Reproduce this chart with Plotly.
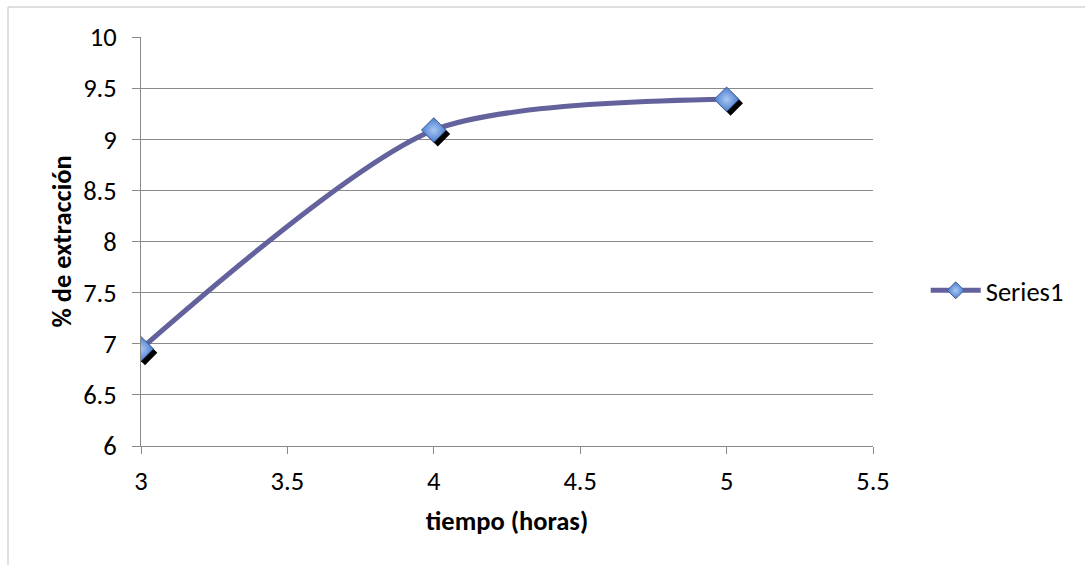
import plotly.graph_objects as go

# Data
tiempo = [3, 4, 5]
extraccion = [6.95, 9.09, 9.39]
series_name = "Series1"
x_ticks = [3, 3.5, 4, 4.5, 5, 5.5]
y_ticks = [6, 6.5, 7, 7.5, 8, 8.5, 9, 9.5, 10]

FONT = "Carlito, Calibri, Lato, sans-serif"
FS = 26.5
W, H = 1085, 565
ML, MR, MT, MB = 141, 212, 37, 119
pw = W - ML - MR
ph = H - MT - MB
x_range = [3, 5.5]
y_range = [6, 10]

# shadow offset in data units (4px right, 4px down)
dx = 4 * (x_range[1] - x_range[0]) / pw
dy = 4 * (y_range[1] - y_range[0]) / ph

fig = go.Figure()
fig.add_trace(go.Scatter(
    x=tiempo, y=extraccion, mode="lines", name=series_name,
    line=dict(color="#63629C", width=5, shape="spline", smoothing=0.75),
    showlegend=False, hoverinfo="skip"))
fig.add_trace(go.Scatter(
    x=[v + dx for v in tiempo], y=[v - dy for v in extraccion], mode="markers",
    marker=dict(symbol="diamond", size=19, color="#000000"),
    showlegend=False, hoverinfo="skip"))
fig.add_trace(go.Scatter(
    x=tiempo, y=extraccion, mode="markers", showlegend=False,
    marker=dict(symbol="diamond", size=19, color="#4A7CD0",
                gradient=dict(type="radial", color="#A9C8F2"),
                line=dict(color="#3E5C93", width=1))))
# legend entry
fig.add_trace(go.Scatter(
    x=[None], y=[None], mode="lines+markers", name=series_name,
    line=dict(color="#63629C", width=5),
    marker=dict(symbol="diamond", size=13, color="#4A7CD0",
                gradient=dict(type="radial", color="#A9C8F2"),
                line=dict(color="#3E5C93", width=1))))

fig.update_layout(
    width=W, height=H,
    margin=dict(l=ML, r=MR, t=MT, b=MB),
    paper_bgcolor="white", plot_bgcolor="white",
    font=dict(family=FONT, size=FS, color="#000000"),
    showlegend=True,
    legend=dict(x=1.072, y=0.38, xanchor="left", yanchor="middle",
                font=dict(family=FONT, size=FS), itemwidth=50,
                bgcolor="rgba(0,0,0,0)", borderwidth=0),
    xaxis=dict(range=x_range, tickvals=x_ticks, ticktext=[f"{v:g}" for v in x_ticks],
               showgrid=False, zeroline=False,
               showline=True, linecolor="#898989", linewidth=1,
               ticks="outside", ticklen=7, tickcolor="#898989",
               ticklabelstandoff=4,
               tickfont=dict(family=FONT, size=FS),
               title=dict(text="<b>tiempo (horas)</b>", font=dict(family=FONT, size=FS), standoff=15)),
    yaxis=dict(range=y_range, tickvals=y_ticks, ticktext=[f"{v:g}" for v in y_ticks],
               showgrid=True, gridcolor="#898989", gridwidth=1, zeroline=False,
               showline=True, linecolor="#898989", linewidth=1,
               ticks="outside", ticklen=8, tickcolor="#898989",
               ticklabelstandoff=10,
               tickfont=dict(family=FONT, size=FS),
               title=dict(text="<b>% de extracción</b>", font=dict(family=FONT, size=FS), standoff=3)),
    shapes=[
        dict(type="line", xref="paper", yref="paper",
             x0=(8 - ML) / pw, x1=(8 - ML) / pw, y0=(H - MB - H) / ph - 0.5, y1=(H - MB - 7) / ph,
             line=dict(color="#BFBFBF", width=1)),
        dict(type="line", xref="paper", yref="paper",
             x0=(8 - ML) / pw, x1=(W + 10 - ML) / pw, y0=(H - MB - 7) / ph, y1=(H - MB - 7) / ph,
             line=dict(color="#BFBFBF", width=1)),
    ],
)

fig.write_html("out.html")
